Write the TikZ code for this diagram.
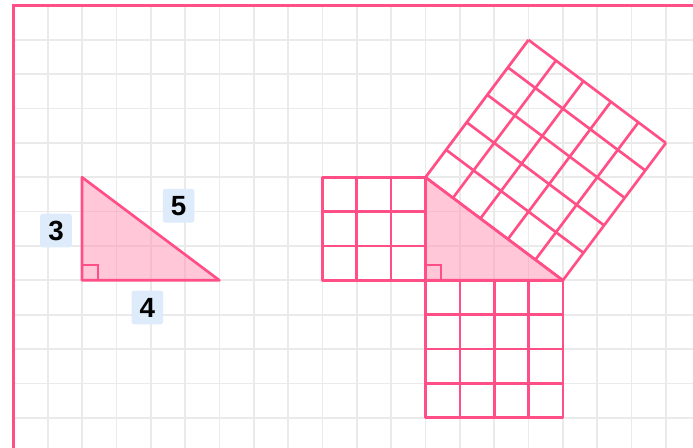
\documentclass[tikz,border=0pt]{standalone}
\usepackage{fontspec}
\setmainfont{Liberation Sans}
\usetikzlibrary{calc}
\definecolor{rose}{HTML}{FF4F86}
\definecolor{rosefill}{HTML}{FF8FB0}
\definecolor{gridgrey}{HTML}{EAEAEA}
\definecolor{tagblue}{HTML}{DDEBFB}

\begin{document}
\begin{tikzpicture}[
    sidelabel/.style={fill=tagblue, rounded corners=2pt, inner sep=0pt,
                      minimum width=0.92cm, minimum height=0.98cm,
                      font=\fontsize{23}{26}\selectfont\bfseries},
    edge/.style={draw=rose, line width=2.2pt, line join=round},
    tri/.style={edge, fill=rosefill, fill opacity=0.5},
    rightangle/.style={draw=rose, line width=1.7pt}
  ]

% picture size and frame
  \useasboundingbox (-0.39,0.163) rectangle (19.79,-12.88);
  \clip (-0.39,0.163) rectangle (19.79,-12.88);
  \draw[step=1.0,gridgrey,line width=1.4pt] (0,-12.9) grid (20,0);
  \draw[draw=rose,line width=3pt] (0,0) rectangle (21,-12.93);

% left triangle
  \coordinate (a) at (2,-5);
  \coordinate (b) at (2,-8);
  \coordinate (c) at (6,-8);
  \draw[tri] (a) -- (b) -- (c) -- cycle;
  \draw[rightangle] ($(b)+(0,0.45)$) -- ++(0.45,0) -- ++(0,-0.45);

  \node[sidelabel] (three) at (1.24,-6.55) {3};
  \node[sidelabel] (five)  at (4.81,-5.83) {5};
  \node[sidelabel] (four)  at (3.90,-8.79) {4};

% right triangle with squares on its sides
  \coordinate (p) at (12,-5);
  \coordinate (q) at (12,-8);
  \coordinate (r) at (16,-8);

  % square on side 3
  \draw[edge,step=1.0] (9,-8) grid (12,-5);
  \draw[edge] (9,-8) rectangle (12,-5);
  % square on side 4
  \draw[edge,step=1.0] (12,-12) grid (16,-8);
  \draw[edge] (12,-12) rectangle (16,-8);
  % square on side 5
  \foreach \i in {0,...,5} {
    \draw[edge] ($(p)!\i/5!(r)$) -- ++(3,4);
    \draw[edge] ($(p)+(0.6*\i,0.8*\i)$) -- ++(4,-3);
  }

  \draw[tri] (p) -- (q) -- (r) -- cycle;
  \draw[rightangle] ($(q)+(0,0.45)$) -- ++(0.45,0) -- ++(0,-0.45);

\end{tikzpicture}
\end{document}
